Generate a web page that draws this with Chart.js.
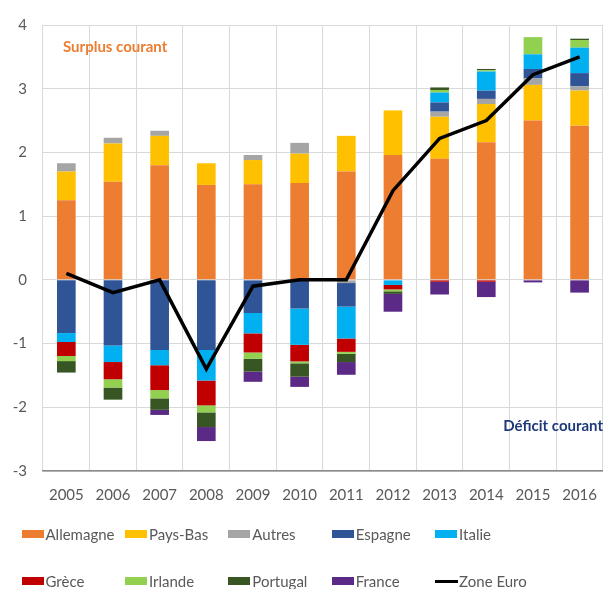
<!DOCTYPE html>
<html>
<head>
<meta charset="utf-8">
<script src="https://cdn.jsdelivr.net/npm/chart.js@4.4.1/dist/chart.umd.min.js"></script>
<style>
  html, body { margin: 0; padding: 0; background: #fff; overflow: hidden; width: 608px; height: 589px; }
  #wrap { position: absolute; left: 0; top: 0; width: 612px; height: 510px; }
  #legend { position: absolute; left: 0; top: 0; width: 608px; height: 589px; pointer-events: none;
            font-family: Lato, "Open Sans", sans-serif; font-size: 15px; color: #595959; }
  .item { position: absolute; display: flex; align-items: center; height: 20px; }
  .sw { width: 22px; height: 8px; margin-right: 2px; }
  .ln { width: 23px; height: 3px; margin-right: 1px; background: #000; }
</style>
</head>
<body>
<div id="wrap"><canvas id="c" width="612" height="510"></canvas></div>
<div id="legend"></div>
<script>
const years = ["2005","2006","2007","2008","2009","2010","2011","2012","2013","2014","2015","2016"];
const allemagne = [1.25, 1.54, 1.80, 1.49, 1.50, 1.52, 1.70, 1.96, 1.90, 2.16, 2.50, 2.42];
const paysBas   = [0.45, 0.60, 0.46, 0.34, 0.38, 0.46, 0.56, 0.70, 0.66, 0.60, 0.56, 0.55];
const autres    = [0.13, 0.09, 0.08, 0.00, 0.08, 0.17, -0.05, 0.00, 0.08, 0.08, 0.10, 0.07];
const espagne   = [-0.835, -1.03, -1.10, -1.10, -0.52, -0.45, -0.37, 0.00, 0.145, 0.13, 0.15, 0.205];
const italie    = [-0.14, -0.26, -0.24, -0.48, -0.32, -0.57, -0.50, -0.08, 0.155, 0.30, 0.23, 0.40];
const grece     = [-0.22, -0.27, -0.39, -0.39, -0.30, -0.26, -0.21, -0.07, -0.03, -0.03, 0.00, 0.00];
const irlande   = [-0.08, -0.13, -0.13, -0.11, -0.10, -0.03, -0.03, -0.03, 0.04, 0.02, 0.27, 0.12];
const portugal  = [-0.18, -0.19, -0.18, -0.23, -0.20, -0.21, -0.13, -0.04, 0.04, 0.02, 0.00, 0.02];
const france    = [0.00, 0.00, -0.08, -0.22, -0.16, -0.16, -0.20, -0.28, -0.20, -0.24, -0.04, -0.20];
const zoneEuro  = [0.1, -0.2, 0.0, -1.4, -0.1, 0.0, 0.0, 1.4, 2.22, 2.5, 3.22, 3.5];
const yTicks    = [4, 3, 2, 1, 0, -1, -2, -3];

const barSeries = [
  ["Allemagne", allemagne, "#ED7D31"],
  ["Pays-Bas", paysBas, "#FFC000"],
  ["Autres", autres, "#A5A5A5"],
  ["Espagne", espagne, "#2F5597"],
  ["Italie", italie, "#00B0F0"],
  ["Grèce", grece, "#C00000"],
  ["Irlande", irlande, "#92D050"],
  ["Portugal", portugal, "#375623"],
  ["France", france, "#5B2A86"]
];
const lineName = "Zone Euro";

const FONT = 'Lato, "Open Sans", sans-serif';

const datasets = barSeries.map(([name, data, color]) => ({
  type: 'bar', label: name, data: data, backgroundColor: color,
  borderWidth: 0, stack: 'bars', order: 1,
  barPercentage: 0.8, categoryPercentage: 0.5
}));
datasets.push({
  type: 'line', label: lineName, data: zoneEuro, borderColor: '#000',
  borderWidth: 3.5, pointRadius: 0, tension: 0, fill: false, stack: 'line', order: 0
});

const annot = {
  id: 'annot',
  afterDraw(chart) {
    const ctx = chart.ctx, y = chart.scales.y, a = chart.chartArea;
    ctx.save();
    ctx.font = 'bold 15px ' + FONT;
    ctx.textBaseline = 'middle';
    ctx.fillStyle = '#ED7D31';
    ctx.textAlign = 'left';
    ctx.fillText('Surplus courant', a.left + 20, y.getPixelForValue(3.65));
    ctx.fillStyle = '#1F3A7A';
    ctx.textAlign = 'right';
    ctx.fillText('Déficit courant', 603, y.getPixelForValue(-2.3));
    ctx.restore();
  }
};

new Chart(document.getElementById('c'), {
  data: { labels: years, datasets },
  options: {
    responsive: false, animation: false,
    layout: { padding: { top: 21, right: 0, left: 0, bottom: 0 } },
    plugins: { legend: { display: false }, tooltip: { enabled: false } },
    scales: {
      x: {
        stacked: true, offset: true,
        grid: { display: true, offset: true, color: '#D9D9D9', lineWidth: 1, drawTicks: false },
        border: { display: true, color: '#898989', width: 1.5 },
        ticks: { color: '#595959', font: { family: FONT, size: 15 }, padding: 15, maxRotation: 0 },
        afterFit(s) { s.height = 39; }
      },
      y: {
        stacked: true, min: -3, max: 4,
        afterBuildTicks(s) { s.ticks = yTicks.map(v => ({ value: v })); },
        grid: { color: '#D9D9D9', lineWidth: 1, drawTicks: false },
        border: { display: false },
        ticks: { color: '#595959', font: { family: FONT, size: 15 }, padding: 16 },
        afterFit(s) { s.width = 43; }
      }
    }
  },
  plugins: [annot]
});

// HTML legend built from the series arrays
const leg = document.getElementById('legend');
const entries = barSeries.map(([n, , c]) => ({ n, c })).concat([{ n: lineName, line: true }]);
entries.forEach((e, i) => {
  const row = Math.floor(i / 5), col = i % 5;
  const d = document.createElement('div');
  d.className = 'item';
  d.style.left = (21.5 + col * 103.4) + 'px';
  d.style.top = (row === 0 ? 523.5 : 571) + 'px';
  const s = document.createElement('span');
  s.className = e.line ? 'ln' : 'sw';
  if (!e.line) s.style.background = e.c;
  const t = document.createElement('span');
  t.textContent = e.n;
  d.appendChild(s); d.appendChild(t);
  leg.appendChild(d);
});
</script>
</body>
</html>
